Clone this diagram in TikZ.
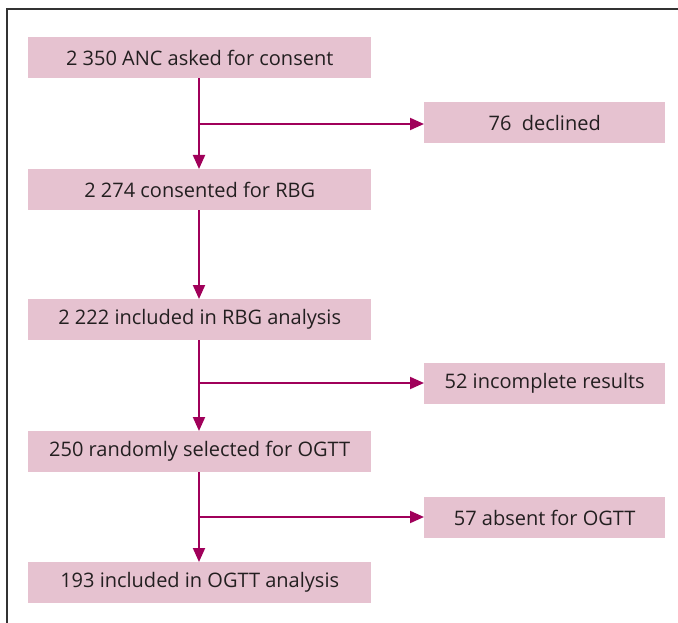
\documentclass[tikz,border=0pt]{standalone}
\usepackage{fontspec}
\setmainfont{Open Sans}
\usetikzlibrary{arrows.meta}
\definecolor{boxfill}{RGB}{230,194,208}
\definecolor{linecol}{RGB}{160,0,90}
\definecolor{txtcol}{RGB}{35,31,32}
\begin{document}
\begin{tikzpicture}[x=1pt,y=-1pt,
  lbox/.style={fill=boxfill,draw=none,minimum width=343pt,minimum height=41pt,inner sep=0pt,text=txtcol,font=\fontsize{20}{24}\selectfont,anchor=north west},
  rbox/.style={fill=boxfill,draw=none,minimum width=241pt,minimum height=41pt,inner sep=0pt,text=txtcol,font=\fontsize{20}{24}\selectfont,anchor=north west},
  conn/.style={draw=linecol,line width=2pt,-{Triangle[length=14pt,width=12pt]}},
  plain/.style={draw=linecol,line width=2pt}]
\useasboundingbox (0,0) rectangle (678,623);
\draw[line width=1.5pt,draw=black!80] (7,623) -- (7,9) -- (678,9);
\node[lbox] (b1) at (28,37) {2 350 ANC asked for consent};
\node[lbox] (b2) at (28,169) {2 274 consented for RBG};
\node[lbox] (b3) at (28,299) {2 222 included in RBG analysis};
\node[lbox] (b4) at (28,431) {250 randomly selected for OGTT};
\node[lbox] (b5) at (28,562) {193 included in OGTT analysis};
\node[rbox] (r1) at (424,102) {76\ \ declined};
\node[rbox] (r2) at (424,363) {52 incomplete results};
\node[rbox] (r3) at (424,497) {57 absent for OGTT};
\coordinate (j1) at (199,124);
\coordinate (j2) at (199,383);
\coordinate (j3) at (199,517);
\path[conn] (b1.south -| j1) -- (b2.north -| j1);
\path[conn] (j1) -- (j1 -| r1.west);
\path[conn] (b2.south -| j1) -- (b3.north -| j1);
\path[conn] (b3.south -| j1) -- (b4.north -| j1);
\path[conn] (j2) -- (j2 -| r2.west);
\path[conn] (b4.south -| j1) -- (b5.north -| j1);
\path[conn] (j3) -- (j3 -| r3.west);
\end{tikzpicture}
\end{document}
